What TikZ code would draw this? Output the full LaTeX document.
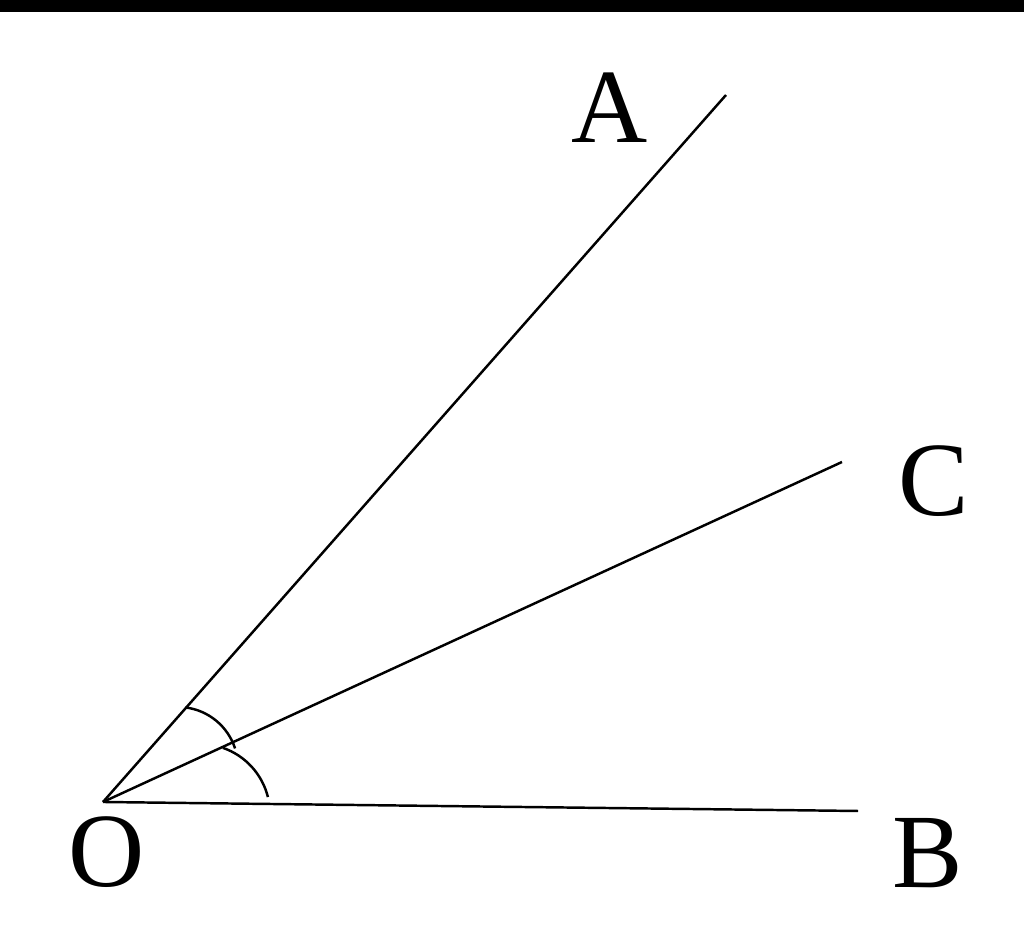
\documentclass[tikz,border=0pt]{standalone}
\usepackage{fontspec}
\setmainfont{Liberation Serif}
\tikzset{
  ray/.style={line width=0.7pt},
  mark arc/.style={line width=0.7pt},
  ptlabel/.style={font=\fontsize{30}{36}\selectfont, inner sep=0pt}
}
\begin{document}
\begin{tikzpicture}[x=0.01cm, y=0.01cm]

  % --- Frame ---
  \useasboundingbox (0,0) rectangle (1024,940);
  \fill[black] (0,928) rectangle (1024,940);

  % --- Points ---
  \coordinate (O) at (103,138);
  \coordinate (A) at (726,845);
  \coordinate (C) at (842,478);
  \coordinate (B) at (858,129);

  % --- Rays ---
  \draw[ray] (O) -- (A);
  \draw[ray] (O) -- (C);
  \draw[ray] (O) -- (B);

  % --- Angle marks ---
  \coordinate (m1) at (178,173);
  \coordinate (m2) at (200,126);
  \draw[mark arc] (m1) ++(83:60) arc[start angle=83, end angle=18, radius=60];
  \draw[mark arc] (m2) ++(71:70) arc[start angle=71, end angle=14, radius=70];

  % --- Labels ---
  \node[ptlabel] (labA) at (610,832) {A};
  \node[ptlabel] (labC) at (934,459) {C};
  \node[ptlabel] (labB) at (928,87) {B};
  \node[ptlabel] (labO) at (107,88) {O};

\end{tikzpicture}
\end{document}
